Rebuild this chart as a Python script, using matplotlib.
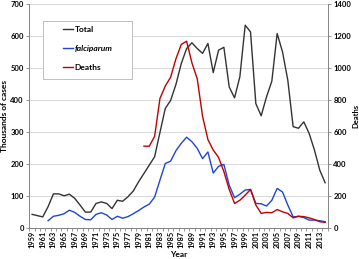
import numpy as np
import matplotlib
matplotlib.use("Agg")
import matplotlib.pyplot as plt
from matplotlib.patches import Rectangle
from matplotlib.ticker import FixedLocator

plt.rcParams['font.family'] = ['Lato', 'DejaVu Sans']
plt.rcParams['font.weight'] = 'bold'

years = list(range(1959, 2015))

# thousands of cases
total = [44, 40, 36, 68, 108, 108, 102, 107, 94, 73, 51, 51, 78, 83, 78, 62,
         88, 85, 99, 117, 146, 172, 198, 224, 300, 375, 400, 450, 515, 562,
         580, 562, 547, 578, 487, 557, 566, 442, 408, 474, 635, 614, 390, 352,
         411, 460, 609, 552, 463, 318, 313, 333, 297, 245, 182, 143]

falciparum = [np.nan, np.nan, np.nan, 24, 38, 41, 46, 57, 50, 38, 28, 27, 44,
              49, 42, 28, 38, 32, 37, 46, 56, 67, 76, 98, 151, 203, 210, 243,
              266, 285, 271, 250, 218, 239, 173, 194, 200, 135, 96, 107, 120,
              122, 78, 77, 70, 88, 125, 114, 73, 36, 38, 34, 26, 26, 24, 21]

# deaths (right axis)
deaths = [np.nan] * 21 + [514, 514, 576, 812, 890, 945, 1060, 1150, 1170, 1035,
                          935, 700, 556, 490, 444, 355, 244, 156, 176, 208, 244,
                          146, 94, 100, 98, 118, 104, 94, 66, 76, 74, 66, 56, 42, 38]

x = np.arange(len(years))
axis_grey = '#868686'

fig = plt.figure(figsize=(3.59, 2.59), dpi=100)
ax = fig.add_axes([0.082, 0.118, 0.831, 0.865])
ax2 = ax.twinx()

ax.plot(x, total, color='#333333', lw=1.0, label='Total')
ax.plot(x, falciparum, color='#1f45d6', lw=1.0, label='falciparum')
ax2.plot(x, deaths, color='#c00000', lw=1.0, label='Deaths')

ax.set_xlim(-0.5, len(years) - 0.5)
ax.set_ylim(0, 700)
ax2.set_ylim(0, 1400)
ax.set_yticks(range(0, 701, 100))
ax2.set_yticks(range(0, 1401, 200))
ax.grid(axis='y', color='#d9d9d9', lw=0.7)
ax.set_axisbelow(True)

ax.set_xticks(x[::2])
ax.set_xticklabels([str(y) for y in years[::2]], rotation=90)
ax.xaxis.set_minor_locator(FixedLocator(np.arange(-0.5, len(years), 1)))
ax.tick_params(axis='x', which='major', length=0, labelsize=5.3, pad=2)
ax.tick_params(axis='x', which='minor', length=2, color=axis_grey, width=0.6)
ax.tick_params(axis='y', labelsize=5.5, length=2, color=axis_grey, width=0.6, pad=2)
ax2.tick_params(axis='y', labelsize=5.5, length=2, color=axis_grey, width=0.6, pad=2)

for a in (ax, ax2):
    a.spines['top'].set_visible(False)
    for s in ('left', 'right', 'bottom'):
        a.spines[s].set_color(axis_grey)
        a.spines[s].set_linewidth(0.7)

ax.set_xlabel('Year', fontsize=6, fontweight='bold', labelpad=2)
ax.set_ylabel('Thousands of cases', fontsize=6, fontweight='bold')
ax.yaxis.set_label_coords(-0.073, 0.5)
ax2.set_ylabel('Deaths', fontsize=5.5, fontweight='bold')
ax2.yaxis.set_label_coords(1.083, 0.5)

# legend box
ax2.add_patch(Rectangle((0.046, 0.666), 0.298, 0.259, transform=ax2.transAxes,
                        facecolor='white', edgecolor='#bfbfbf', lw=0.7, zorder=1))
handles = ax.get_lines() + ax2.get_lines()
leg = ax2.legend(handles, [h.get_label() for h in handles],
                 loc='upper left', bbox_to_anchor=(0.113, 0.905),
                 frameon=False, fontsize=6, handlelength=1.2,
                 handletextpad=0.15, labelspacing=1.45, borderpad=0,
                 borderaxespad=0)
for t in leg.get_texts():
    t.set_fontweight('bold')
    if t.get_text() == 'falciparum':
        t.set_fontstyle('italic')
leg.set_zorder(10)

fig.savefig('out.png', dpi=100)
